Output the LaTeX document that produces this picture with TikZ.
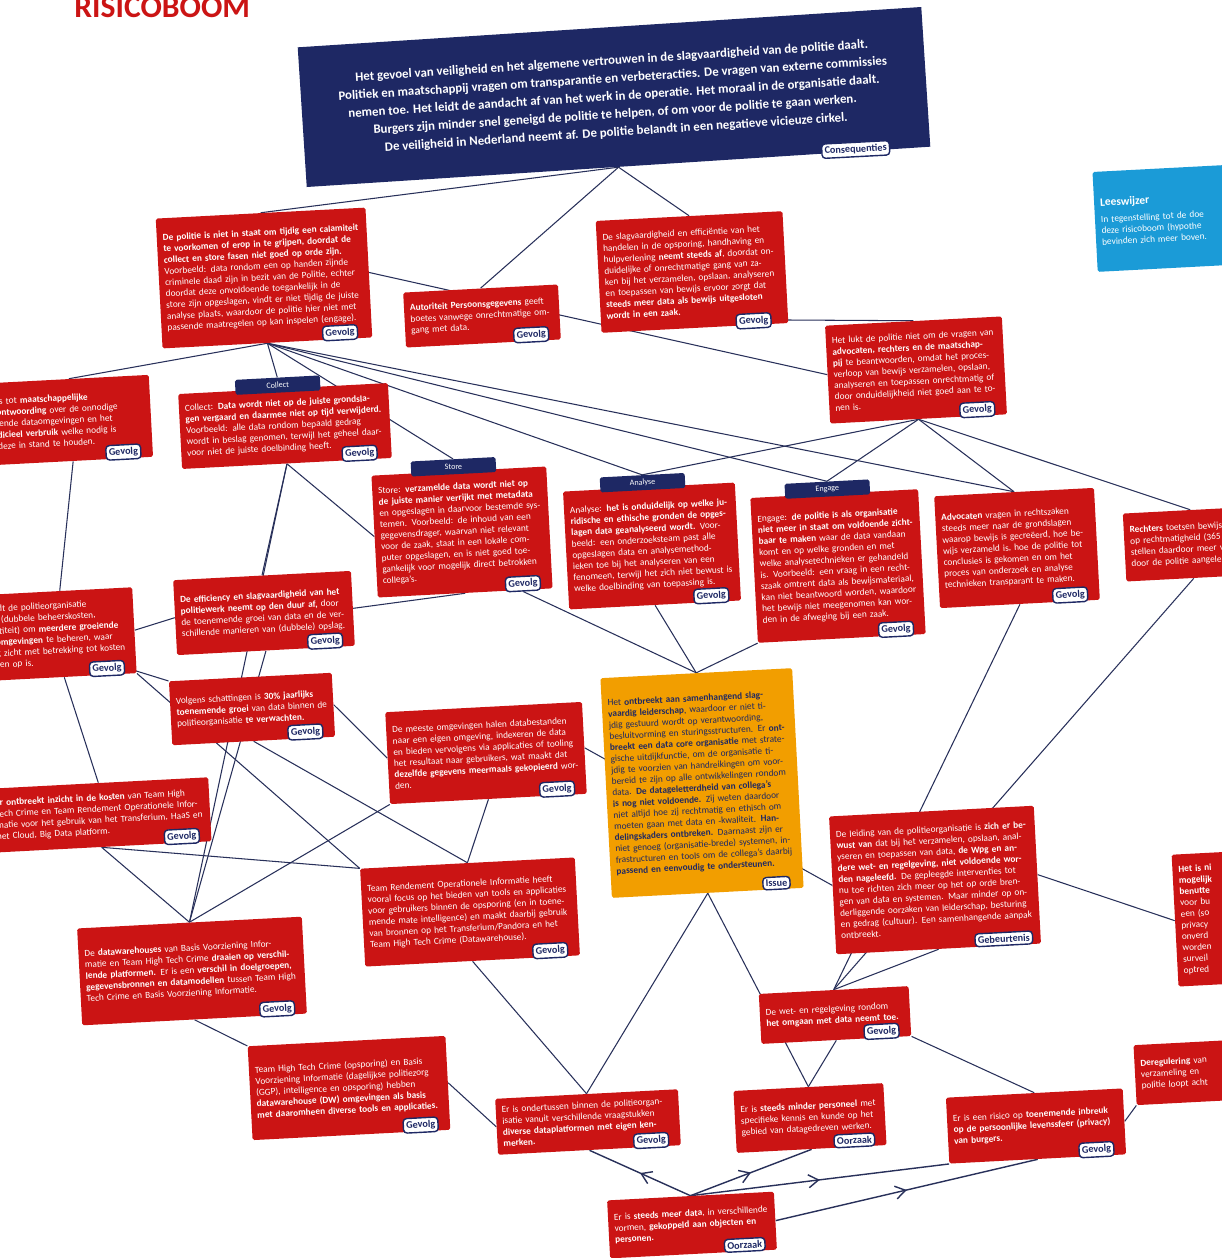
\documentclass[tikz,border=0pt]{standalone}
\usepackage{fontspec}
\setmainfont{Carlito}
\usepackage{xcolor}
\usepackage{tikz}
\usetikzlibrary{arrows.meta,positioning,backgrounds,decorations.markings}
\definecolor{riskred}{RGB}{203,20,20}
\definecolor{navy}{RGB}{30,40,100}
\definecolor{issueorange}{RGB}{242,158,0}
\definecolor{readblue}{RGB}{27,155,215}
\definecolor{linecol}{RGB}{40,48,90}
\newcommand{\boxfont}{\fontsize{5.3}{6.4}\selectfont}
\newcommand{\tagfont}{\fontsize{5.8}{7}\selectfont\bfseries}

\begin{document}
\begin{tikzpicture}[
  x=0.02cm,y=-0.02cm,
  riskbox/.style={fill=riskred,text=white,align=left,inner sep=0.12cm,
                  rounded corners=1pt,font=\boxfont,rotate=3},
  issuebox/.style={riskbox,fill=issueorange,text=navy},
  consbox/.style={fill=navy,text=white,align=center,inner sep=0.2cm,
                  font=\fontsize{7.3}{10.2}\selectfont\bfseries,rotate=3.7},
  readbox/.style={riskbox,fill=readblue},
  endtag/.style={draw=navy,fill=white,text=navy,rounded corners=2pt,
                 line width=0.8pt,inner sep=1.6pt,font=\tagfont,rotate=3},
  phasebox/.style={fill=navy,text=white,rounded corners=1pt,inner sep=1pt,
                   minimum width=1.7cm,minimum height=0.3cm,
                   font=\fontsize{4.6}{5}\selectfont,rotate=3},
  link/.style={draw=linecol,line width=0.6pt},
  flow/.style={link,line width=0.8pt,postaction={decorate},
               decoration={markings,mark=at position 0.5 with
               {\arrow{Straight Barb[length=2mm,width=2.6mm]}}}}
]
\useasboundingbox (0,0) rectangle (1222,1258);
\clip (0,0) rectangle (1222,1258);

% titel, grotendeels buiten beeld
\node[anchor=base west,text=riskred,inner sep=0pt,
      font=\fontsize{18}{18}\selectfont\bfseries] (titel) at (74,17) {RISICOBOOM};

% consequenties
\node[consbox,minimum width=12.5cm,minimum height=2.8cm] (consequenties) at (614,97)
  {Het gevoel van veiligheid en het algemene vertrouwen in de slagvaardigheid van de politie daalt.\\
   Politiek en maatschappij vragen om transparantie en verbeteracties. De vragen van externe commissies\\
   nemen toe. Het leidt de aandacht af van het werk in de operatie. Het moraal in de organisatie daalt.\\
   Burgers zijn minder snel geneigd de politie te helpen, of om voor de politie te gaan werken.\\
   De veiligheid in Nederland neemt af. De politie belandt in een negatieve vicieuze cirkel.};
\node[endtag] (consequenties-t) at ([xshift=-1.5cm,yshift=-0.05cm]consequenties.south east) {Consequenties};

% gevolgen bovenin
\node[riskbox,text width=3.96cm,minimum height=2.6cm] (calamiteit) at (264,278)
  {\textbf{De politie is niet in staat om tijdig een calamiteit te voorkomen of erop in te grijpen,
   doordat de collect en store fasen niet goed op orde zijn.} Voorbeeld: data rondom een op handen
   zijnde criminele daad zijn in bezit van de Politie, echter doordat deze onvoldoende toegankelijk
   in de store zijn opgeslagen, vindt er niet tijdig de juiste analyse plaats, waardoor de politie
   hier niet met passende maatregelen op kan inspelen (engage).};
\node[endtag] (calamiteit-t) at ([xshift=-0.65cm,yshift=0.1cm]calamiteit.south east) {Gevolg};

\node[riskbox,text width=2.86cm,minimum height=1.1cm] (autoriteit) at (482,316)
  {\textbf{Autoriteit Persoonsgegevens} geeft boetes vanwege onrechtmatige omgang met data.};
\node[endtag] (autoriteit-t) at ([xshift=-0.6cm,yshift=0.1cm]autoriteit.south east) {Gevolg};

\node[riskbox,text width=3.5cm,minimum height=2.24cm] (slagvaardigheid) at (692,272)
  {De slagvaardigheid en efficiëntie van het handelen in de opsporing, handhaving en hulpverlening
   \textbf{neemt steeds af}, doordat onduidelijke of onrechtmatige gang van zaken bij het verzamelen,
   opslaan, analyseren en toepassen van bewijs ervoor zorgt dat \textbf{steeds meer data als bewijs
   uitgesloten wordt in een zaak.}};
\node[endtag] (slagvaardigheid-t) at ([xshift=-0.7cm,yshift=0.05cm]slagvaardigheid.south east) {Gevolg};

\node[riskbox,text width=3.3cm,minimum height=1.96cm] (bewijsvragen) at (916,370)
  {Het lukt de politie niet om de vragen van \textbf{advocaten, rechters en de maatschappij} te
   beantwoorden, omdat het proces-verloop van bewijs verzamelen, opslaan, analyseren en toepassen
   onrechtmatig of door onduidelijkheid niet goed aan te tonen is.};
\node[endtag] (bewijsvragen-t) at ([xshift=-0.6cm,yshift=0.1cm]bewijsvragen.south east) {Gevolg};

\node[readbox,text width=2.76cm,minimum height=2.0cm] (leeswijzer) at (1170,218)
  {{\fontsize{6.5}{8}\selectfont\bfseries Leeswijzer}\\[3pt]
   In tegenstelling tot de doe\\ deze risicoboom (hypothe\\ bevinden zich meer boven.};

% linker kolom, deels buiten beeld
\node[riskbox,text width=2.96cm,minimum height=1.64cm] (verantwoording) at (71,420)
  {ts tot \textbf{maatschappelijke}\\ \textbf{ontwoording} over de onnodige\\ lende dataomgevingen en het\\
   \textbf{dicieel verbruik} welke nodig is\\ deze in stand te houden.};
\node[endtag] (verantwoording-t) at ([xshift=-0.6cm,yshift=0.1cm]verantwoording.south east) {Gevolg};

% fasen
\node[riskbox,text width=3.96cm,minimum height=1.5cm] (collect) at (285,426)
  {Collect: \textbf{Data wordt niet op de juiste grondslagen vergaard en daarmee niet op tijd
   verwijderd.} Voorbeeld: alle data rondom bepaald gedrag wordt in beslag genomen, terwijl het
   geheel daarvoor niet de juiste doelbinding heeft.};
\node[endtag] (collect-t) at ([xshift=-0.65cm,yshift=0.1cm]collect.south east) {Gevolg};
\node[phasebox,anchor=south west] (collect-p) at ([xshift=1.15cm,yshift=-0.03cm]collect.north west) {Collect};

\node[riskbox,text width=3.26cm,minimum height=2.44cm] (store) at (462,532)
  {Store: \textbf{verzamelde data wordt niet op de juiste manier verrijkt met metadata} en
   opgeslagen in daarvoor bestemde systemen. Voorbeeld: de inhoud van een gegevensdrager, waarvan
   niet relevant voor de zaak, staat in een lokale computer opgeslagen, en is niet goed toegankelijk
   voor mogelijk direct betrokken collega's.};
\node[endtag] (store-t) at ([xshift=-0.6cm,yshift=0.1cm]store.south east) {Gevolg};
\node[phasebox,anchor=south west] (store-p) at ([xshift=0.8cm,yshift=-0.03cm]store.north west) {Store};

\node[riskbox,text width=3.2cm,minimum height=2.36cm] (analyse) at (652,546)
  {Analyse: \textbf{het is onduidelijk op welke juridische en ethische gronden de opgeslagen data
   geanalyseerd wordt.} Voorbeeld: een onderzoeksteam past alle opgeslagen data en
   analysemethodieken toe bij het analyseren van een fenomeen, terwijl het zich niet bewust is
   welke doelbinding van toepassing is.};
\node[endtag] (analyse-t) at ([xshift=-0.6cm,yshift=0.1cm]analyse.south east) {Gevolg};
\node[phasebox,anchor=south west] (analyse-p) at ([xshift=0.75cm,yshift=-0.03cm]analyse.north west) {Analyse};

\node[riskbox,text width=3.12cm,minimum height=2.9cm] (engage) at (838,566)
  {Engage: \textbf{de politie is als organisatie niet meer in staat om voldoende zichtbaar te maken}
   waar de data vandaan komt en op welke gronden en met welke analysetechnieken er gehandeld is.
   Voorbeeld: een vraag in een rechtszaak omtrent data als bewijsmateriaal, kan niet beantwoord
   worden, waardoor het bewijs niet meegenomen kan worden in de afweging bij een zaak.};
\node[endtag] (engage-t) at ([xshift=-0.6cm,yshift=0.1cm]engage.south east) {Gevolg};
\node[phasebox,anchor=south west] (engage-p) at ([xshift=0.7cm,yshift=-0.03cm]engage.north west) {Engage};

\node[riskbox,text width=2.96cm,minimum height=2.24cm] (advocaten) at (1017,548)
  {\textbf{Advocaten} vragen in rechtszaken steeds meer naar de grondslagen waarop bewijs is
   gecreëerd, hoe bewijs verzameld is, hoe de politie tot conclusies is gekomen en om het proces
   van onderzoek en analyse technieken transparant te maken.};
\node[endtag] (advocaten-t) at ([xshift=-0.6cm,yshift=0.1cm]advocaten.south east) {Gevolg};

\node[riskbox,text width=2.46cm,minimum height=1.36cm] (rechters) at (1192,544)
  {\textbf{Rechters} toetsen bewijs\\ op rechtmatigheid (365\\ stellen daardoor meer v\\
   door de politie aangele};

% midden
\node[riskbox,text width=2.66cm,minimum height=1.72cm] (kosten) at (62,634)
  {rdt de politieorganisatie\\ r (dubbele beheerskosten,\\ ctiteit) om \textbf{meerdere groeiende}\\
   \textbf{omgevingen} te beheren, waar\\ g zicht met betrekking tot kosten\\ ten op is.};
\node[endtag] (kosten-t) at ([xshift=-0.6cm,yshift=0.1cm]kosten.south east) {Gevolg};

\node[riskbox,text width=3.32cm,minimum height=1.5cm] (efficiency) at (264,613)
  {\textbf{De efficiency en slagvaardigheid van het politiewerk neemt op den duur af,} door de
   toenemende groei van data en de verschillende manieren van (dubbele) opslag.};
\node[endtag] (efficiency-t) at ([xshift=-0.6cm,yshift=0.1cm]efficiency.south east) {Gevolg};

\node[riskbox,text width=3.02cm,minimum height=1.28cm] (groei) at (252,709)
  {Volgens schattingen is \textbf{30\% jaarlijks toenemende groei} van data binnen de
   politieorganisatie \textbf{te verwachten.}};
\node[endtag] (groei-t) at ([xshift=-0.6cm,yshift=0.1cm]groei.south east) {Gevolg};

\node[riskbox,text width=3.7cm,minimum height=1.84cm] (kopieren) at (486,753)
  {De meeste omgevingen halen databestanden naar een eigen omgeving, indexeren de data en bieden
   vervolgens via applicaties of tooling het resultaat naar gebruikers, wat maakt dat
   \textbf{dezelfde gegevens meermaals gekopieerd} worden.};
\node[endtag] (kopieren-t) at ([xshift=-0.6cm,yshift=0.1cm]kopieren.south east) {Gevolg};

\node[issuebox,text width=3.6cm,minimum height=4.4cm] (issue) at (702,783)
  {Het \textbf{ontbreekt aan samenhangend slagvaardig leiderschap}, waardoor er niet tijdig gestuurd
   wordt op verantwoording, besluitvorming en sturingsstructuren. Er \textbf{ontbreekt een data core
   organisatie} met strategische uitdijkfunctie, om de organisatie tijdig te voorzien van
   handreikingen om voorbereid te zijn op alle ontwikkelingen rondom data. \textbf{De
   datageletterdheid van collega's is nog niet voldoende.} Zij weten daardoor niet altijd hoe zij
   rechtmatig en ethisch om moeten gaan met data en -kwaliteit. \textbf{Handelingskaders ontbreken.}
   Daarnaast zijn er niet genoeg (organisatie-brede) systemen, infrastructuren en tools om de
   collega's daarbij \textbf{passend en eenvoudig te ondersteunen.}};
\node[endtag] (issue-t) at ([xshift=-0.55cm,yshift=0.1cm]issue.south east) {Issue};

\node[riskbox,text width=4.16cm,minimum height=1.28cm] (inzicht) at (100,815)
  {\textbf{Er ontbreekt inzicht in de kosten} van Team High Tech Crime en Team Rendement
   Operationele Informatie voor het gebruik van het Transferium, HaaS en het Cloud, Big Data platform.};
\node[endtag] (inzicht-t) at ([xshift=-0.6cm,yshift=0.1cm]inzicht.south east) {Gevolg};

\node[riskbox,text width=4.06cm,minimum height=1.96cm] (rendement) at (470,912)
  {Team Rendement Operationele Informatie heeft vooral focus op het bieden van tools en applicaties
   voor gebruikers binnen de opsporing (en in toenemende mate intelligence) en maakt daarbij gebruik
   van bronnen op het Transferium/Pandora en het Team High Tech Crime (Datawarehouse).};
\node[endtag] (rendement-t) at ([xshift=-0.6cm,yshift=0.1cm]rendement.south east) {Gevolg};

\node[riskbox,text width=3.86cm,minimum height=2.76cm] (leiding) at (935,880)
  {De leiding van de politieorganisatie is \textbf{zich er bewust van} dat bij het verzamelen,
   opslaan, analyseren en toepassen van data, \textbf{de Wpg en andere wet- en regelgeving, niet
   voldoende worden nageleefd.} De gepleegde interventies tot nu toe richten zich meer op het op orde
   brengen van data en systemen. Maar minder op onderliggende oorzaken van leiderschap, besturing en
   gedrag (cultuur). Een samenhangende aanpak ontbreekt.};
\node[endtag] (leiding-t) at ([xshift=-0.75cm,yshift=0.1cm]leiding.south east) {Gebeurtenis};

\node[riskbox,text width=1.76cm,minimum height=2.64cm] (nietmogelijk) at (1225,918)
  {\textbf{Het is ni}\\ \textbf{mogelijk}\\ \textbf{benutte}\\ voor bu\\ een (so\\ privacy\\
   onverd\\ worden\\ surveil\\ optred};

% onderin
\node[riskbox,text width=4.26cm,minimum height=1.94cm] (warehouses) at (192,971)
  {De \textbf{datawarehouses} van Basis Voorziening Informatie en Team High Tech Crime
   \textbf{draaien op verschillende platformen.} Er is een \textbf{verschil in doelgroepen,
   gegevensbronnen en datamodellen} tussen Team High Tech Crime en Basis Voorziening Informatie.};
\node[endtag] (warehouses-t) at ([xshift=-0.6cm,yshift=0.1cm]warehouses.south east) {Gevolg};

\node[riskbox,text width=2.76cm,minimum height=1.0cm] (wetgeving) at (835,1015)
  {De wet- en regelgeving rondom \textbf{het omgaan met data neemt toe.}};
\node[endtag] (wetgeving-t) at ([xshift=-0.6cm,yshift=0.1cm]wetgeving.south east) {Gevolg};

\node[riskbox,text width=3.72cm,minimum height=1.88cm] (htcbvi) at (349,1088)
  {Team High Tech Crime (opsporing) en Basis Voorziening Informatie (dagelijkse politiezorg (GGP),
   intelligence en opsporing) hebben \textbf{datawarehouse (DW) omgevingen als basis met daaromheen
   diverse tools en applicaties.}};
\node[endtag] (htcbvi-t) at ([xshift=-0.6cm,yshift=0.1cm]htcbvi.south east) {Gevolg};

\node[riskbox,text width=3.42cm,minimum height=1.12cm] (platformen) at (588,1122)
  {Er is ondertussen binnen de politieorganisatie vanuit verschillende vraagstukken
   \textbf{diverse dataplatformen met eigen kenmerken.}};
\node[endtag] (platformen-t) at ([xshift=-0.6cm,yshift=0.1cm]platformen.south east) {Gevolg};

\node[riskbox,text width=2.76cm,minimum height=1.24cm] (personeel) at (810,1118)
  {Er is \textbf{steeds minder personeel} met specifieke kennis en kunde op het gebied van
   datagedreven werken.};
\node[endtag] (personeel-t) at ([xshift=-0.65cm,yshift=0.1cm]personeel.south east) {Oorzaak};

\node[riskbox,text width=3.3cm,minimum height=1.32cm] (privacy) at (1036,1126)
  {Er is een risico op \textbf{toenemende inbreuk op de persoonlijke levenssfeer (privacy) van
   burgers.}};
\node[endtag] (privacy-t) at ([xshift=-0.6cm,yshift=0.1cm]privacy.south east) {Gevolg};

\node[riskbox,text width=2.16cm,minimum height=1.2cm] (deregulering) at (1195,1072)
  {\textbf{Deregulering} van\\ verzameling en\\ politie loopt acht};

\node[riskbox,text width=3.1cm,minimum height=1.16cm] (meerdata) at (692,1225)
  {Er is \textbf{steeds meer data}, in verschillende vormen, \textbf{gekoppeld aan objecten en
   personen.}};
\node[endtag] (meerdata-t) at ([xshift=-0.65cm,yshift=0.1cm]meerdata.south east) {Oorzaak};

% verbindingen
\begin{scope}[on background layer]
\fill[white] (0,0) rectangle (1222,1258);
\clip (0,0) rectangle (1222,1258);
\draw[link] (consequenties.south) -- (calamiteit.north);
\draw[link] (consequenties.south) -- (autoriteit.north);
\draw[link] (consequenties.south) -- (slagvaardigheid.north);
\draw[link] (slagvaardigheid-t.east) -- (bewijsvragen.north);
\draw[link] (calamiteit.south) -- (verantwoording.north);
\draw[link] (calamiteit.south) -- (collect-p.north);
\draw[link] (calamiteit.south) -- (store-p.north);
\draw[link] (calamiteit.south) -- (analyse-p.north);
\draw[link] (calamiteit.south) -- (engage-p.north);
\draw[link] (calamiteit.south) -- (advocaten.north);
\draw[link] (calamiteit.east) -- (bewijsvragen.west);
\draw[link] (bewijsvragen.south) -- (engage-p.north);
\draw[link] (bewijsvragen.south) -- (advocaten.north);
\draw[link] (bewijsvragen.south) -- (rechters.north);
\draw[link] (bewijsvragen.south) -- (analyse-p.north);
\draw[link] (verantwoording.south) -- (kosten.north);
\draw[link] (collect.south) -- (efficiency.north);
\draw[link] (collect.south) -- (store.west);
\draw[link] (kosten.east) -- (efficiency.west);
\draw[link] (kosten-t.east) -- (groei.north west);
\draw[link] (kosten.south) -- (inzicht.north);
\draw[link] (kosten.south east) -- (rendement.north west);
\draw[link] (efficiency.east) -- (store.south);
\draw[link] (groei.east) -- (kopieren.west);
\draw[link] (groei.south) -- (rendement.north);
\draw[link] (store-t.south) -- (issue.north);
\draw[link] (analyse.south) -- (issue.north);
\draw[link] (engage.south west) -- (issue.north);
\draw[link] (kopieren.south) -- (rendement.north);
\draw[link] (kopieren.east) -- (leiding.west);
\draw[link] (inzicht.south) -- (warehouses.north);
\draw[link] (inzicht.south) -- (rendement.north west);
\draw[link] (warehouses.north) -- (efficiency.south);
\draw[link] (warehouses.north) -- (collect.south);
\draw[link] (warehouses.north) -- (kopieren.south west);
\draw[link] (warehouses.south) -- (htcbvi.north west);
\draw[link] (rendement.south) -- (platformen.north);
\draw[link] (htcbvi.east) -- (platformen.west);
\draw[link] (issue.south) -- (platformen.north);
\draw[link] (issue.south) -- (personeel.north);
\draw[link] (wetgeving.north) -- (advocaten.south);
\draw[link] (wetgeving.north) -- (rechters.south);
\draw[link] (wetgeving.north) -- (leiding.south);
\draw[link] (leiding.east) -- (nietmogelijk.west);
\draw[link] (wetgeving.south) -- (personeel.north);
\draw[link] (wetgeving.south east) -- (privacy.north);
\draw[link] (privacy.east) -- (deregulering.south west);
\draw[flow] (meerdata.north) -- (platformen.south);
\draw[flow] (meerdata.north) -- (personeel.south);
\draw[flow] (meerdata.north) -- (privacy.south west);
\draw[flow] (meerdata.east) -- (privacy.south);
\end{scope}
\end{tikzpicture}
\end{document}
